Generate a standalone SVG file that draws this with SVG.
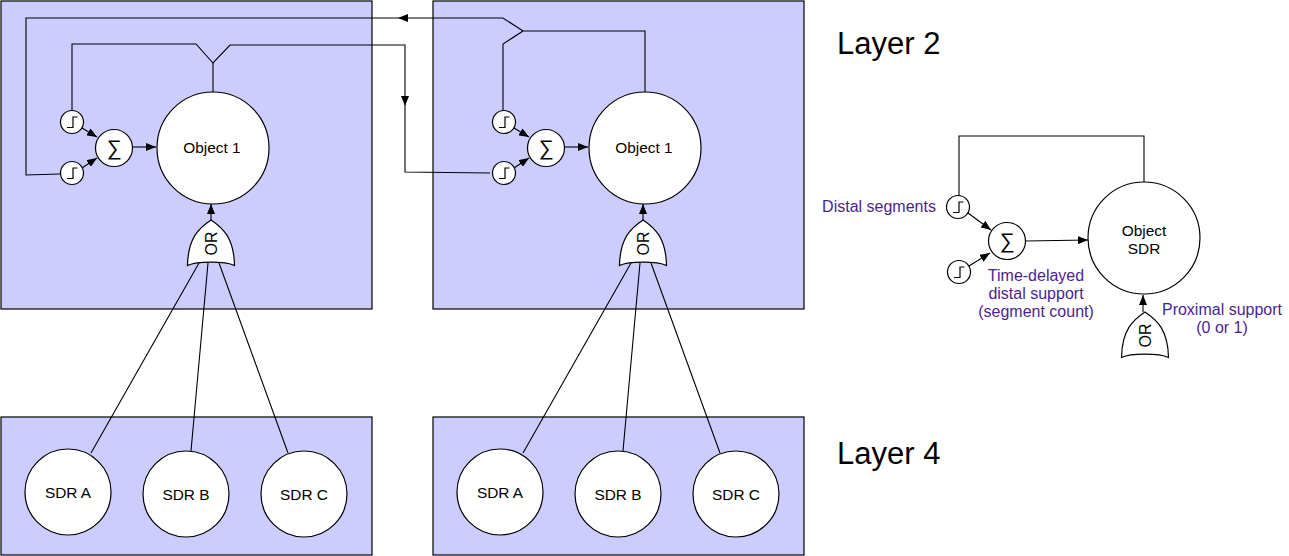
<svg xmlns="http://www.w3.org/2000/svg" width="1289" height="556" viewBox="0 0 1289 556">
<style>
text{font-family:"Liberation Sans",Arial,sans-serif;fill:#000;text-anchor:middle}
.panel{fill:#ccf;stroke:#000;stroke-width:1.2}
.node{fill:#fff;stroke:#000;stroke-width:1.2}
.wire{fill:none;stroke:#000;stroke-width:1.1;stroke-linejoin:miter}
.arr{fill:none;stroke:#000;stroke-width:1.1;marker-end:url(#ah)}
.lbl{font-size:15.4px}
.head{font-size:31px;text-anchor:start}
.note{font-size:16px;fill:#4b1f8f}
.glyph{fill:none;stroke:#000;stroke-width:1.2}
.sg{font-size:21px}
.org{font-size:16px}
</style>
<defs>
<marker id="ah" viewBox="0 0 10 8" refX="10" refY="4" markerUnits="userSpaceOnUse" markerWidth="10" markerHeight="8" orient="auto"><path d="M0 0L10 4L0 8z" fill="#000"/></marker>
<g id="step"><circle class="node" r="11.5"/><path class="glyph" d="M-5 5.5H1V-5H5.5"/></g>
<g id="sum"><circle class="node" r="18.5"/><text class="sg" y="7">∑</text></g>
<g id="or"><path class="node" d="M0 0C12 8 23 18 23.5 45.5C14 41 -14 41 -23.5 45.5C-23 18 -12 8 0 0z"/><text class="org" transform="translate(5.5,23.5) rotate(-90)">OR</text></g>
</defs>
<g id="panel-l2-left"><rect class="panel" x="1" y="1" width="371" height="308"/></g>
<g id="panel-l2-right"><rect class="panel" x="433" y="1" width="371" height="308"/></g>
<g id="panel-l4-left"><rect class="panel" x="1" y="417" width="371" height="138"/></g>
<g id="panel-l4-right"><rect class="panel" x="433" y="417" width="371" height="138"/></g>
<g id="connectors">
<path class="wire" d="M72 111V44H196L213 63L230 45H405V172L490 173"/>
<path class="wire" d="M213 63V92"/>
<path class="wire" d="M60 174L26 175V18H503L523 31H645V92"/>
<path class="wire" d="M503 111V44L523 31"/>
<path class="wire" d="M959 196V136H1144V182"/>
<path d="M398 18L408 14V22z" fill="#000"/>
<path d="M405 106L401 96H409z" fill="#000"/>
<path class="arr" d="M82 128L97 137"/><path class="arr" d="M82 168L97 158"/><path class="arr" d="M133 147H156"/><path class="arr" d="M211 220V204"/>
<path class="arr" d="M514 128L529 137"/><path class="arr" d="M514 168L529 158"/><path class="arr" d="M565 147H588"/><path class="arr" d="M643 220V204"/>
<path class="arr" d="M968 213L991 230"/><path class="arr" d="M969 266L990 253"/><path class="arr" d="M1026 241L1088 240"/><path class="arr" d="M1143 312V295"/>
<path class="wire" d="M199 263L91 453M208 263L191 451M219 263L288 453"/>
<path class="wire" d="M631 263L523 453M640 263L623 451M651 263L720 453"/>
</g>
<g id="object-left"><circle class="node" cx="213" cy="148" r="56"/><text class="lbl" x="212" y="153">Object 1</text></g>
<g id="object-right"><circle class="node" cx="645" cy="148" r="56"/><text class="lbl" x="644" y="153">Object 1</text></g>
<g id="object-sdr"><circle class="node" cx="1144" cy="238" r="56"/><text class="lbl" x="1144" y="236">Object</text><text class="lbl" x="1144" y="254">SDR</text></g>
<g id="sum-left"><use href="#sum" x="114" y="148"/></g>
<g id="sum-right"><use href="#sum" x="546" y="148"/></g>
<g id="sum-sdr"><use href="#sum" x="1007" y="241"/></g>
<g id="step-l1"><use href="#step" x="72" y="122"/></g>
<g id="step-l2"><use href="#step" x="72" y="173"/></g>
<g id="step-r1"><use href="#step" x="504" y="122"/></g>
<g id="step-r2"><use href="#step" x="504" y="173"/></g>
<g id="step-s1"><use href="#step" x="958" y="207"/></g>
<g id="step-s2"><use href="#step" x="959" y="272"/></g>
<g id="or-left"><use href="#or" x="211" y="220"/></g>
<g id="or-right"><use href="#or" x="643" y="220"/></g>
<g id="or-sdr"><use href="#or" x="1145" y="312"/></g>
<g id="sdr-a-left"><circle class="node" cx="68" cy="492" r="43"/><text class="lbl" x="68" y="498">SDR A</text></g>
<g id="sdr-b-left"><circle class="node" cx="186" cy="494" r="43"/><text class="lbl" x="186" y="500">SDR B</text></g>
<g id="sdr-c-left"><circle class="node" cx="304" cy="494" r="43"/><text class="lbl" x="304" y="500">SDR C</text></g>
<g id="sdr-a-right"><circle class="node" cx="500" cy="492" r="43"/><text class="lbl" x="500" y="498">SDR A</text></g>
<g id="sdr-b-right"><circle class="node" cx="618" cy="494" r="43"/><text class="lbl" x="618" y="500">SDR B</text></g>
<g id="sdr-c-right"><circle class="node" cx="736" cy="494" r="43"/><text class="lbl" x="736" y="500">SDR C</text></g>
<g id="labels">
<text class="head" x="837" y="54">Layer 2</text>
<text class="head" x="837" y="464">Layer 4</text>
<text class="note" x="879" y="212">Distal segments</text>
<text class="note" x="1036" y="281">Time-delayed</text>
<text class="note" x="1036" y="299">distal support</text>
<text class="note" x="1036" y="317">(segment count)</text>
<text class="note" x="1222" y="315">Proximal support</text>
<text class="note" x="1222" y="333">(0 or 1)</text>
</g>
</svg>
